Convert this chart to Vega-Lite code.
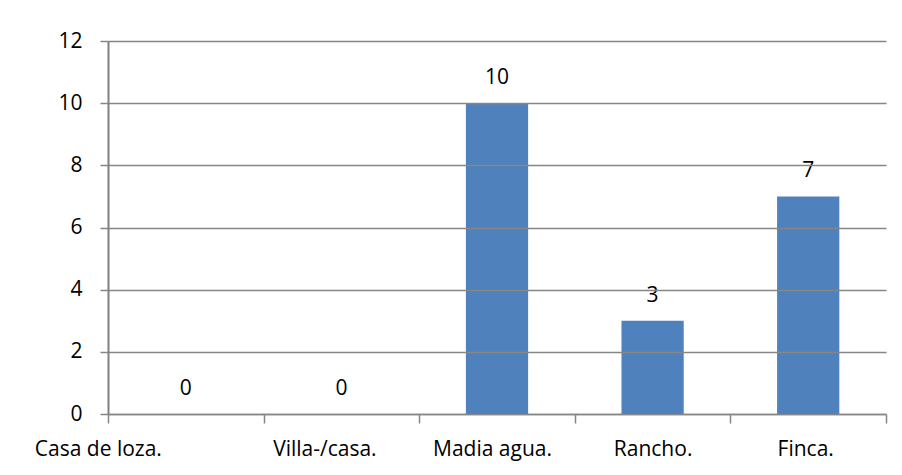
{
  "$schema": "https://vega.github.io/schema/vega-lite/v6.json",
  "autosize": "none",
  "width": 778,
  "height": 373,
  "padding": {"left": 108, "top": 41, "right": 16, "bottom": 61},
  "background": "white",
  "data": {"values": [
    {"tipo": "Casa de loza.", "n": 0},
    {"tipo": "Villa-/casa.", "n": 0},
    {"tipo": "Madia agua.", "n": 10},
    {"tipo": "Rancho.", "n": 3},
    {"tipo": "Finca.", "n": 7}
  ]},
  "encoding": {
    "x": {"field": "tipo", "type": "nominal", "sort": null,
      "scale": {"paddingInner": 0, "paddingOuter": 0},
      "axis": {"title": null, "labelAngle": 0, "tickBand": "extent",
        "domainColor": "#868686", "tickColor": "#868686", "tickSize": 9, "domainWidth": 1.5, "tickWidth": 1.5,
        "labelFont": "Open Sans", "labelFontSize": 21, "labelColor": "#000000", "labelPadding": 15,
        "labelOffset": {"expr": "datum.label == 'Casa de loza.' ? -88 : datum.label == 'Villa-/casa.' ? -17 : datum.label == 'Madia agua.' ? -5 : datum.label == 'Finca.' ? -3 : 0"}}},
    "y": {"field": "n", "type": "quantitative",
      "scale": {"domain": [0, 12], "nice": false},
      "axis": {"title": null, "values": [0, 2, 4, 6, 8, 10, 12], "grid": true, "zindex": 1,
        "gridColor": "#868686", "gridWidth": 1.5, "domain": true, "domainColor": "#808080", "domainWidth": 2,
        "tickColor": "#868686", "tickSize": 8, "tickWidth": 1.5,
        "labelFont": "Open Sans", "labelFontSize": 21, "labelColor": "#000000", "labelPadding": 18}}
  },
  "layer": [
    {"mark": {"type": "bar", "color": "#4F81BD", "width": {"band": 0.4}}},
    {"mark": {"type": "text", "font": "Open Sans", "fontSize": 21, "color": "#000000", "baseline": "alphabetic", "dy": -19},
     "encoding": {"text": {"field": "n", "type": "quantitative"}}}
  ],
  "config": {"view": {"stroke": null}}
}
